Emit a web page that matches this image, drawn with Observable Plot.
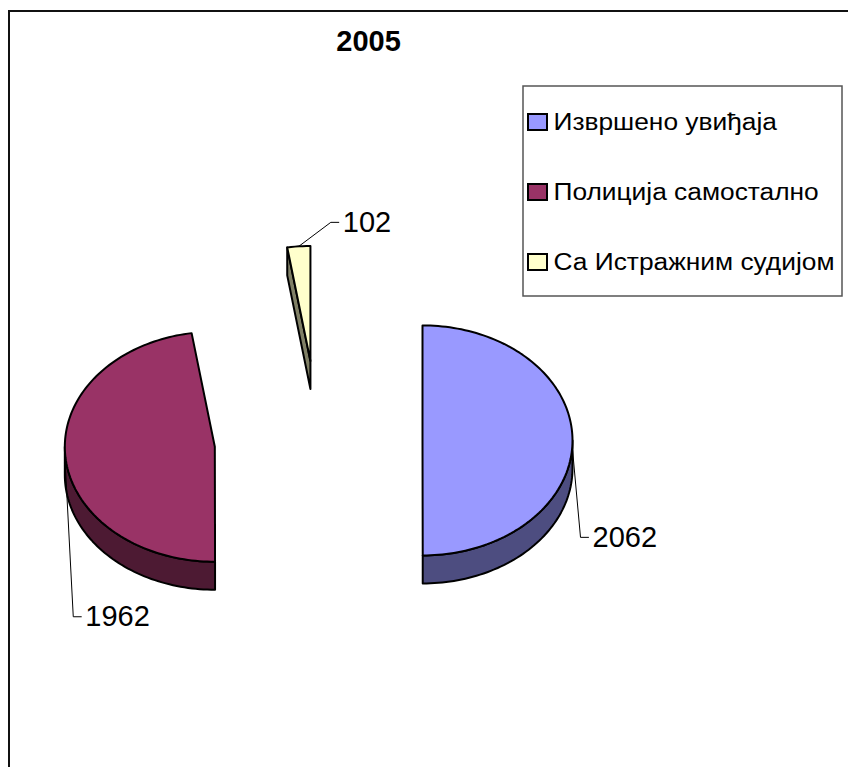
<!DOCTYPE html>
<html><head><meta charset="utf-8">
<script src="https://cdn.jsdelivr.net/npm/d3@7"></script>
<script src="https://cdn.jsdelivr.net/npm/@observablehq/plot@0.6"></script>
<style>
body{margin:0;background:#fff;overflow:hidden;width:848px;height:767px;position:relative}
#chart{position:absolute;left:0;top:0}
#frame{position:absolute;left:8px;top:10px;width:1000px;height:1000px;border-left:2px solid #111;border-top:2px solid #111;pointer-events:none}
</style>
</head><body><div id="chart"></div><div id="frame"></div>
<script>
// ---- data ----
const title = "2005";
const categories = ["Извршено увиђаја", "Полиција самостално", "Са Истражним судијом"];
const values = [2062, 1962, 102];
const topColors = ["#9999FF", "#993366", "#FFFFCC"];
const sideColors = ["#4D4D80", "#4D1A33", "#808066"];

// ---- layout ----
const W = 848, H = 767;
const P = {cx: 318, cy: 440, rx: 150, ry: 115, depth: 28, explode: 104};
const labelFont = 29, legendFont = 23.5, legendStretch = 1.12;
const labelOffsets = [[8, 88], [8, 152], [32, -24]];
const legend = {x1: 523, x2: 842, y1: 86, y2: 296, row0: 122, rowStep: 70, swX: 528, swW: 19, swH: 16, textX: 553};

const rad = d => d * Math.PI / 180;
const sum = d3.sum(values);
let acc = 0;
const slices = values.map((v, i) => {
  const a0 = acc / sum * 360; acc += v; const a1 = acc / sum * 360;
  const mid = (a0 + a1) / 2;
  return {i, v, a0, a1, mid,
    cx: P.cx + P.explode * Math.sin(rad(mid)),
    cy: P.cy - P.explode * (P.ry / P.rx) * Math.cos(rad(mid))};
});
const rim = (s, deg, dy = 0) => ({x: s.cx + P.rx * Math.sin(rad(deg)), y: s.cy - P.ry * Math.cos(rad(deg)) + dy});
const arc = (s, a, b, dy = 0) => {
  const n = Math.max(2, Math.ceil(Math.abs(b - a) / 1.5));
  return d3.range(n + 1).map(k => rim(s, a + (b - a) * k / n, dy));
};

const polys = [];
[...slices].sort((a, b) => a.cy - b.cy).forEach(s => {
  const c = {x: s.cx, y: s.cy}, cb = {x: s.cx, y: s.cy + P.depth};
  // radial faces
  if (-Math.cos(rad(s.a0 - 90)) > 0.01)
    polys.push({fill: sideColors[s.i], pts: [c, rim(s, s.a0), rim(s, s.a0, P.depth), cb]});
  if (-Math.cos(rad(s.a1 + 90)) > 0.01)
    polys.push({fill: sideColors[s.i], pts: [c, rim(s, s.a1), rim(s, s.a1, P.depth), cb]});
  // outer side (front half only)
  const lo = Math.max(s.a0, 90), hi = Math.min(s.a1, 270);
  if (hi > lo) polys.push({fill: sideColors[s.i], pts: [...arc(s, lo, hi), ...arc(s, hi, lo, P.depth)]});
  // top
  polys.push({fill: topColors[s.i], pts: [c, ...arc(s, s.a0, s.a1)]});
});

const labels = slices.map(s => {
  const dy = Math.cos(rad(s.mid)) < 0.5 ? 9 : 0;
  const a = rim(s, s.mid, dy);
  const [ox, oy] = labelOffsets[s.i];
  const e = {x: a.x + ox, y: a.y + oy};
  const f = {x: e.x + 8, y: e.y};
  return {i: s.i, text: String(s.v), line: [a, e, f], tx: f.x + 4, ty: f.y};
});

const legendRows = categories.map((c, i) => ({c, i, y: legend.row0 + legend.rowStep * i}));

const marks = [
  ...polys.map(p => Plot.line(p.pts, {x: "x", y: "y", fill: p.fill, stroke: "#000", strokeWidth: 2, curve: "linear-closed", strokeLinejoin: "round"})),
  ...labels.map(l => Plot.line(l.line, {x: "x", y: "y", stroke: "#000", strokeWidth: 1})),
  Plot.text(labels, {x: "tx", y: "ty", text: "text", textAnchor: "start", fontSize: labelFont, fill: "#000"}),
  Plot.text([title], {x: () => 368, y: () => 41, text: d => d, fontSize: 29, fontWeight: "bold", fill: "#000"}),
  Plot.rect([legend], {x1: "x1", x2: "x2", y1: "y1", y2: "y2", fill: "none", stroke: "#555", strokeWidth: 1.5}),
  Plot.rect(legendRows, {x1: () => legend.swX, x2: () => legend.swX + legend.swW, y1: d => d.y - legend.swH / 2, y2: d => d.y + legend.swH / 2, fill: d => topColors[d.i], stroke: "#000", strokeWidth: 2}),
  Plot.text(legendRows, {x: () => legend.textX, y: "y", text: "c", textAnchor: "start", fontSize: legendFont, fill: "#000", className: "legtext"})
];

const chart = Plot.plot({
  width: W, height: H, margin: 0,
  x: {domain: [0, W], range: [0, W], axis: null},
  y: {domain: [0, H], range: [0, H], axis: null},
  color: {type: "identity"},
  style: {fontFamily: "'Liberation Sans', Arial, sans-serif", background: "#fff", overflow: "visible"},
  marks
});
document.getElementById("chart").appendChild(chart);
// horizontally stretched legend text (reference is scaled wider than tall)
d3.select(chart).selectAll("g.legtext text").each(function() {
  const w = this.getComputedTextLength();
  this.setAttribute("textLength", w * legendStretch);
  this.setAttribute("lengthAdjust", "spacingAndGlyphs");
});
</script></body></html>
